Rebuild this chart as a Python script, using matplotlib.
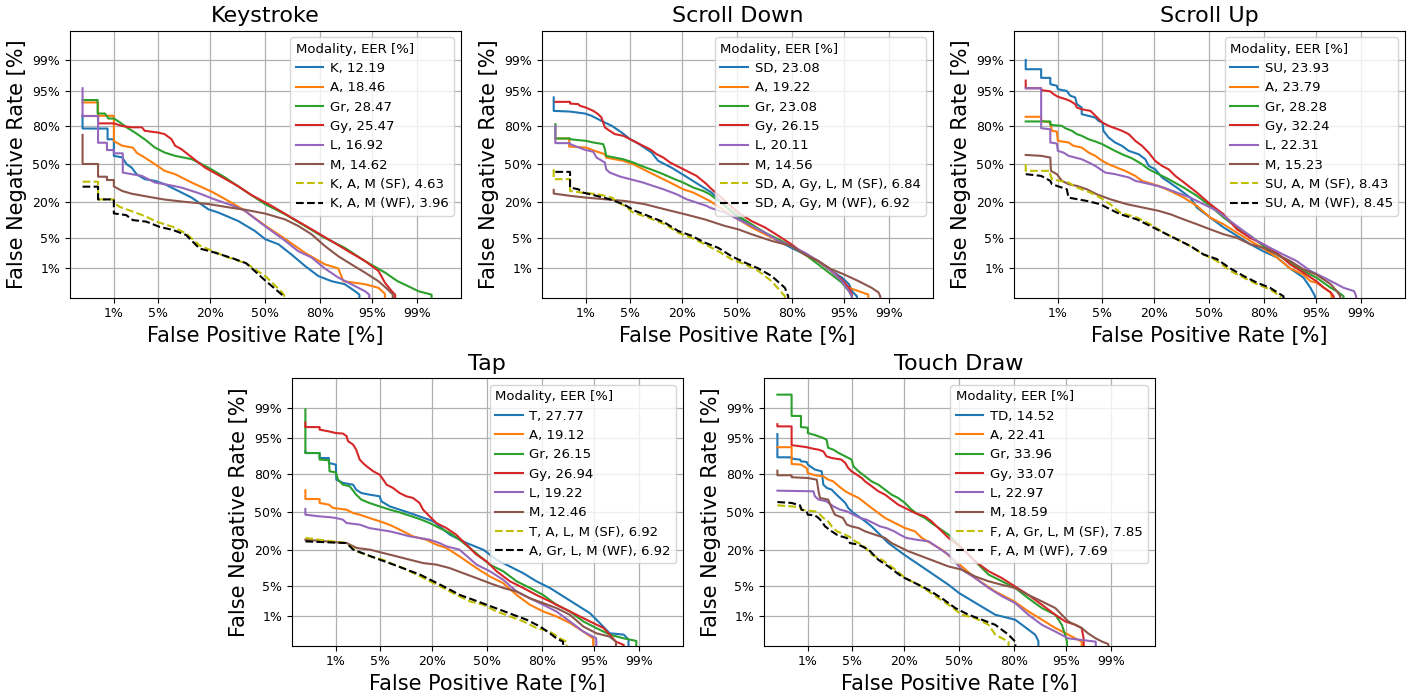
import math
import numpy as np
import matplotlib
matplotlib.use("Agg")
import matplotlib.pyplot as plt

# ---------------- data (FPR %, FNR %) ----------------
TICKS = [1, 5, 20, 50, 80, 95, 99]
TICK_LABELS = ["1%", "5%", "20%", "50%", "80%", "95%", "99%"]
LEGEND_TITLE = "Modality, EER [%]"
TITLES = ["Keystroke", "Scroll Down", "Scroll Up", "Tap", "Touch Draw"]

# Keystroke
ks_labels = ["K, 12.19", "A, 18.46", "Gr, 28.47", "Gy, 25.47", "L, 16.92", "M, 14.62",
             "K, A, M (SF), 4.63", "K, A, M (WF), 3.96"]
ks_k = [(0.25,86.1),(0.25,78.7),(0.77,78.7),(0.77,71.1),(1.0,71.1),(1.0,57.4),(1.4,56),(1.66,50),(2.0,47),(2.4,41.2),(3.2,36.9),(4.5,35.5),(6.1,32.8),(9.1,27.5),(12.9,22.8),(19.1,15.7),(23.6,14),(34,10.2),(43.7,6.8),(50,4.7),(58,3.7),(65.6,2.2),(72.9,1.16),(79.2,0.63),(84.6,0.45),(88.9,0.37),(91.6,0.23),(92.6,0.18),(92.6,0)]
ks_a = [(0.25,91.6),(0.51,91.6),(0.51,86),(1.0,86),(1.0,69.7),(1.4,66),(2.1,64.4),(2.4,60.2),(3.2,55.9),(4.5,50),(6.1,44.1),(8.3,41.2),(13,34),(20.5,27),(26.6,22),(36,16),(50,8.5),(61.9,4.8),(72.9,2.4),(82,1.27),(86.9,1.0),(88.5,0.45),(93.7,0.37),(95.9,0.29),(96.7,0.19),(96.7,0)]
ks_gr = [(0.25,92.4),(0.5,92.4),(0.5,87.1),(0.69,87.1),(0.8,84.6),(1.0,84.6),(1.29,82.4),(1.66,79.4),(2.27,76),(3.2,71.1),(4.5,64.5),(6.1,60.3),(8.3,57.4),(13,54.4),(19.1,47),(26.8,38.4),(37.8,27.5),(50,18.6),(61.9,13.2),(72.9,8.4),(82,5),(88.9,3.1),(93.7,1.54),(96.7,0.78),(97.9,0.45),(98.77,0.29),(99.06,0.23),(99.47,0.18),(99.47,0)]
ks_gy = [(0.25,85.9),(0.51,85.9),(0.51,81.9),(1.0,81.9),(1.4,80.3),(2.0,79.5),(2.9,79.5),(3.2,77.2),(5.0,76),(6.1,74.9),(7.5,71.1),(8.3,66),(9.9,63.1),(13,56),(17.7,47),(25,39),(34,31),(41.7,24.5),(53.9,17.6),(65.6,11.7),(76.1,7.35),(84.6,4.3),(89.9,2.6),(93.7,1.54),(95.9,0.86),(96.7,0.41),(97.4,0.23),(97.7,0.18),(97.7,0)]
ks_l = [(0.25,95.5),(0.25,85.9),(0.51,85.9),(0.51,68.4),(0.75,68.4),(0.75,62.4),(1.0,62.4),(1.0,59.6),(1.43,59.6),(1.43,42.6),(2.0,41.2),(2.9,39.7),(4.5,34.1),(6.1,32.8),(9.9,30.1),(15.2,26),(22,21.5),(30.3,18),(37.8,14.9),(45.7,10.2),(53.9,6.8),(61.9,4.4),(69.4,2.6),(76.1,1.87),(82,1.0),(86.9,0.57),(90.7,0.37),(93.7,0.23),(94.5,0.18),(94.5,0)]
ks_m = [(0.25,74.3),(0.25,50.2),(0.51,50.2),(0.51,39),(0.75,39),(0.75,36.2),(1.0,36.2),(1.0,31),(1.4,27.5),(2.0,25.5),(4.0,23),(6.1,21.5),(10.9,20),(19.1,18.7),(30.3,16.5),(37.8,15.5),(50,13.5),(61.9,10.9),(69.4,8.4),(76.1,5.9),(82,3.4),(86.9,2.0),(90.7,1.27),(93.7,0.78),(95.9,0.45),(97,0.26),(97.5,0.18),(97.5,0)]
ks_sf = [(0.25,34.8),(0.51,34.8),(0.51,21.6),(1.0,21.6),(1.0,19.5),(1.26,17.1),(2.1,14.5),(3.37,12.1),(4.7,10),(7.8,8.1),(11.2,6.1),(15.6,3.5),(27.4,1.94),(38.5,1.35),(50.5,0.6),(60.6,0.2),(62,0.15),(62,0)]
ks_wf = [(0.25,30.8),(0.51,30.8),(0.51,21.6),(1.0,21.6),(1.0,13.6),(1.63,12.8),(2.1,10.6),(3.37,10),(5.2,8.1),(7.8,7.1),(11.2,5.7),(15.6,3.0),(21,2.5),(30.9,1.78),(38.5,1.35),(48.5,0.54),(60.6,0.17),(61,0)]

# Scroll Down
sd_labels = ["SD, 23.08", "A, 19.22", "Gr, 23.08", "Gy, 26.15", "L, 20.11", "M, 14.56",
             "SD, A, Gy, L, M (SF), 6.84", "SD, A, Gy, M (WF), 6.92"]
sd_sd = [(0.24,93.2),(0.24,88.3),(0.51,88),(0.96,87.1),(1.26,86),(1.85,83.3),(2.7,80.4),(3.8,76),(5,71.1),(6.4,67.8),(9.4,60.3),(11.2,53),(15.6,47),(21.1,39.7),(27.4,32.8),(34.7,26.3),(42.5,17.6),(50.6,11.7),(58.7,8.4),(66.5,6.3),(73.6,4.35),(79.7,3.1),(85.1,2.2),(89.3,1.54),(92.6,0.86),(94.6,0.57),(95.7,0.37),(96.1,0.23),(96.7,0.16),(96.7,0)]
sd_a = [(0.26,71.7),(0.49,71.7),(0.49,65.3),(1.0,64.5),(1.43,61.7),(2.1,58.8),(2.2,55.9),(3.0,54.4),(4.0,53),(5.5,50),(7.4,45.5),(9.8,41.2),(12.8,36.9),(16.3,32.8),(20.3,28.8),(25,26.3),(30.1,22.8),(33.7,20.6),(42.5,14.9),(50.6,10.9),(58.7,7.9),(66.5,5.9),(73.6,4.35),(79.7,3.4),(85.1,2.2),(89.3,1.54),(92.6,0.86),(94.6,0.45),(95.7,0.29),(96.9,0.23),(97.8,0.18),(97.8,0)]
sd_gr = [(0.26,81.4),(0.26,71.7),(0.51,71.7),(0.51,71.1),(1.0,69.9),(1.35,68.6),(1.97,67.3),(2.1,63.1),(2.2,57.4),(3.0,55.9),(4.0,54.4),(5.5,51.5),(7.4,47.9),(9.8,44.7),(12.8,41.2),(16.3,37.4),(20.3,34.1),(25,30.1),(30.1,27.5),(33.7,25.1),(42.5,17.6),(50.6,12.4),(58.7,9.0),(66.5,6.3),(73.6,4.7),(79.7,3.4),(85.1,2.2),(89.3,1.27),(92.6,0.69),(94.6,0.41),(95.7,0.23),(96.1,0.16),(96.1,0)]
sd_gy = [(0.26,91.8),(0.51,91.8),(0.51,91.2),(0.73,91),(0.78,90.4),(1.0,89.7),(1.35,88.3),(1.63,86.8),(1.85,85.1),(1.97,82.4),(2.1,79.4),(2.5,77.2),(3.0,74.9),(4.0,73.7),(5.0,71.1),(6.1,68.6),(7.4,65.9),(9.0,63.1),(10.8,58.8),(12.8,55.9),(15.1,51.5),(17.6,48.5),(21.8,44.1),(26.6,39.7),(31.9,32.8),(33.7,30.1),(42.5,20.6),(50.6,14),(58.7,10.2),(66.5,7.9),(73.6,5.5),(79.7,3.7),(85.1,2.2),(89.3,1.54),(92.6,0.86),(94.6,0.5),(95.7,0.29),(96.1,0.18),(96.1,0)]
sd_l = [(0.26,80.4),(0.26,68.1),(0.51,68.1),(0.51,67.3),(0.96,62.6),(1.35,60.9),(1.53,55.9),(2.1,51.5),(2.2,45.5),(2.5,42.6),(3.6,39.1),(5,36.9),(7.4,34.1),(9.8,31.4),(12.8,28.8),(17.6,25.1),(21.8,21.7),(26.6,19.6),(31.9,17.6),(33.7,16.6),(42.5,14),(50.6,10.9),(58.7,8.4),(66.5,6.3),(73.6,4.35),(79.7,3.4),(85.1,2.4),(89.3,1.54),(92.6,0.86),(94.6,0.45),(95.7,0.23),(96.1,0.16),(96.1,0)]
sd_m = [(0.24,28.3),(0.24,25.6),(0.51,24),(1,22.8),(2.1,21.7),(4.2,20.6),(7.8,18.6),(13.3,15.7),(21.1,13.2),(30.9,10.9),(42.5,8.4),(50.6,7.3),(58.7,5.9),(70.1,4.35),(79.7,3.4),(85.1,2.2),(89.3,1.54),(92.6,0.95),(95,0.69),(96.9,0.45),(98.05,0.29),(98.5,0.21),(98.6,0.16),(98.6,0)]
sd_sf = [(0.24,45.5),(0.24,36.9),(0.51,36.9),(0.51,27.5),(0.84,26.3),(1.63,25.1),(2.7,22.8),(3.4,19.6),(4.2,17.6),(5.5,14),(6.4,13.2),(8.6,11.7),(13.3,9.0),(18.2,6.3),(24.2,5),(30.9,3.7),(38.5,2.6),(46.5,1.7),(54.7,1.27),(62.7,0.86),(70.1,0.45),(76.8,0.16),(76.8,0)]
sd_wf = [(0.26,43.2),(0.51,43.2),(0.51,30.1),(0.73,28.8),(0.9,26.3),(1.53,24),(2.5,21.7),(4.0,18.6),(5.8,14.9),(8.6,12.4),(13.3,9.6),(18.2,6.8),(24.2,5.5),(30.9,4.0),(38.5,3.1),(46.5,2.0),(54.7,1.4),(62.7,1.0),(70.1,0.63),(76.8,0.29),(78.3,0.16),(78.3,0)]

# Scroll Up
su_labels = ["SU, 23.93", "A, 23.79", "Gr, 28.28", "Gy, 32.24", "L, 22.31", "M, 15.23",
             "SU, A, M (SF), 8.43", "SU, A, M (WF), 8.45"]
su_su = [(0.24,99),(0.24,98.3),(0.49,98.3),(0.49,97.3),(0.73,97.3),(0.73,96.3),(0.96,96),(1.0,95.3),(1.43,94.9),(1.63,93.7),(1.97,93.2),(2.1,91),(2.5,89.7),(2.5,86.8),(4.0,85.1),(4.45,83.3),(5.05,82.4),(5.2,77.2),(6.1,72.4),(7.4,68.6),(9.0,65.9),(10.8,61.7),(13.9,58.8),(16.3,54.4),(17.6,48.5),(20.3,45.5),(23.4,38.4),(30.9,30.1),(38.5,22.8),(42.5,16.6),(50.6,11.7),(58.7,7.9),(66.5,5.5),(73.6,3.7),(79.7,2.6),(85.1,1.87),(89.3,1.0),(92.6,0.57),(94,0.29),(94.8,0.16),(94.8,0)]
su_a = [(0.24,85.5),(0.49,85.5),(0.49,83.3),(0.73,82.4),(0.78,77.2),(0.96,76.7),(1.0,69.9),(1.53,68.6),(1.85,65.9),(2.5,64.5),(3.2,60.2),(4.0,57.4),(5.0,53),(6.1,50),(7.4,47.6),(9.8,44.1),(12.8,39.7),(15.1,35.5),(21.8,31.4),(27.5,27.5),(34.7,22.8),(42.5,17.6),(50.6,11.7),(58.7,9.0),(66.5,6.3),(73.6,4.35),(79.7,3.0),(85.1,1.87),(89.3,1.0),(92.6,0.69),(94,0.45),(95,0.41),(96.1,0.29),(96.9,0.21),(97,0.16),(97,0)]
su_gr = [(0.24,83),(0.73,83),(0.73,81),(1.18,80.4),(1.35,78.9),(1.74,77.2),(2.1,74.9),(2.5,73.7),(3.2,71.1),(4.0,69.4),(5,67.3),(6.1,64.5),(7.4,61.7),(9.0,58.8),(11.7,55.3),(15.1,50),(17.6,45.5),(21.8,41.2),(26.6,36.9),(34.7,30.1),(42.5,24),(50.6,17.6),(58.7,11.7),(66.5,7.9),(73.6,5.5),(79.7,3.4),(85.1,2.2),(89.3,1.4),(92.6,0.86),(95,0.57),(96.9,0.29),(97.5,0.23),(98.05,0.16),(98.05,0)]
su_gy = [(0.24,96.9),(0.24,95.5),(0.49,95.5),(0.49,95.1),(0.73,94.8),(0.84,94.1),(1.0,93.4),(1.35,92.7),(1.63,92.1),(1.97,91),(2.1,89.7),(2.5,89),(3.4,88.3),(4.0,86.1),(5,82.4),(6.1,80.4),(7.4,78.9),(9.0,77.2),(10.8,74.9),(12.8,69.9),(15.1,65.9),(17.6,60.2),(20.3,53),(23.4,48.5),(26.6,45.5),(30.1,39.7),(33.7,35.5),(42.5,26.3),(50.6,18.6),(58.7,13.2),(66.5,7.3),(73.6,5),(79.7,3.7),(85.1,2.4),(89.3,1.27),(92.6,0.78),(95,0.45),(96.1,0.29),(96.9,0.21),(97.2,0.16),(97.2,0)]
su_l = [(0.24,95.5),(0.49,95.5),(0.49,78.9),(0.73,78.2),(0.73,68.6),(0.96,67.8),(1.0,61.7),(1.26,60.2),(1.53,57.4),(1.97,55.9),(2.5,54.4),(3.2,51.5),(4.0,48.5),(4.7,45.5),(5.5,42.6),(7.4,41.2),(10.8,38.4),(12.8,35.5),(18.2,32.8),(24.2,30.1),(30.9,26.3),(38.5,22.8),(46.5,18.6),(54.7,14.9),(62.7,10.2),(70.1,6.8),(76.8,4.35),(82.5,3.1),(87.2,2.2),(91,1.54),(94,0.86),(96.1,0.57),(97.5,0.37),(98.05,0.29),(98.7,0.23),(98.8,0.16),(98.8,0)]
su_m = [(0.24,58.2),(0.49,57.4),(0.73,55.9),(0.75,44.1),(0.96,41.2),(1.18,35.5),(1.53,32.8),(2.1,31.4),(3.0,28.8),(4.2,25.1),(6.4,21.7),(10.3,18.6),(15.6,16.6),(21.8,14.9),(27.5,13.2),(34.7,10.9),(42.5,9.0),(50.6,7.3),(58.7,5.9),(66.5,5.0),(73.6,3.7),(79.7,3.1),(85.1,2.2),(89.3,1.54),(92.6,0.95),(95,0.69),(96.9,0.37),(97.5,0.23),(97.8,0.16),(97.8,0)]
su_sf = [(0.24,50),(0.24,44.1),(0.73,44.1),(0.73,41.2),(0.78,36.9),(1.53,34.1),(2.1,30.1),(3.4,26.3),(4.7,22.8),(6.4,18.6),(8.6,14),(13.3,11.7),(18.2,9.0),(24.2,6.3),(30.9,4.7),(38.5,3.4),(46.5,2.2),(54.7,1.54),(62.7,0.86),(70.1,0.57),(76.8,0.37),(82.5,0.26),(86.2,0.16),(86.2,0)]
su_wf = [(0.24,41.2),(0.49,39.7),(0.73,35.5),(0.78,32.8),(1.43,28.8),(1.53,22.8),(3.0,20.6),(4.7,18.6),(6.4,15.7),(8.6,13.2),(13.3,10.9),(18.2,8.4),(24.2,6.3),(30.9,4.7),(38.5,3.4),(46.5,2.2),(54.7,1.7),(62.7,1.0),(70.1,0.63),(76.8,0.41),(82.5,0.29),(87.3,0.16),(87.3,0)]

# Tap
tp_labels = ["T, 27.77", "A, 19.12", "Gr, 26.15", "Gy, 26.94", "L, 19.22", "M, 12.46",
             "T, A, L, M (SF), 6.92", "A, Gr, L, M (WF), 6.92"]
tp_t = [(0.26,91.2),(0.26,90.6),(0.5,90.6),(0.5,88.6),(0.75,88.6),(0.75,86.3),(1.0,85.5),(1.02,76.5),(1.33,74.2),(1.96,72.9),(2.2,69.1),(2.65,66.4),(3.5,65.1),(4.9,63.7),(5.2,59.4),(6.7,55),(8.9,52.1),(11.7,49.1),(14.9,46.1),(20.4,41.8),(28.3,30.6),(37.6,24.4),(47.6,20),(55.7,14.3),(63.6,11.2),(71,8.6),(77.5,6.1),(83.2,4.5),(87.8,3.0),(91.5,1.92),(94.25,1.2),(95.8,0.66),(97.0,0.34),(98.2,0.31),(98.5,0.22),(98.6,0)]
tp_a = [(0.26,68.6),(0.26,61.4),(0.5,61.4),(0.5,58),(0.75,56.5),(0.89,53.6),(1.53,52.1),(1.96,49.1),(2.5,47.6),(3.5,44.7),(4.9,41.8),(6.1,39.7),(7.4,37.4),(9.8,33.3),(12.7,29.3),(17.4,26.8),(21.7,23.3),(26.5,21.1),(33.5,16.1),(43.5,10.5),(51.6,7.5),(59.7,5.6),(67.4,3.2),(74.4,1.92),(80.5,1.32),(85.6,0.99),(89.8,0.66),(93,0.38),(94.8,0.24),(95.3,0)]
tp_gr = [(0.26,98.9),(0.26,90.6),(0.5,90.6),(0.5,87.9),(0.75,87.6),(0.77,81.8),(1.0,81.2),(1.09,76.5),(1.33,72.9),(1.73,71.7),(2.2,65.1),(2.65,60.9),(3.5,58),(4.9,55),(6.7,52.1),(8.9,49.7),(11.7,46.7),(14.9,43.8),(18.8,40.3),(23.2,36),(28.3,31.9),(33.5,26.8),(39.5,21.1),(45.5,16.1),(51.6,12),(59.7,9.3),(67.4,6.1),(74.4,4.5),(80.5,3.2),(85.6,1.92),(89.8,1.32),(93,0.73),(95.3,0.48),(97.0,0.31),(98.2,0.24),(98.9,0.2),(98.9,0)]
tp_gy = [(0.26,97.7),(0.26,97.1),(0.5,97.1),(0.5,96.7),(0.75,96.4),(1.0,96.1),(1.33,96),(1.53,95.5),(1.62,94.3),(1.96,93.4),(2.2,91.8),(2.5,87.9),(2.8,86.3),(3.2,84.6),(4.0,81.8),(4.9,79.8),(5.5,76.5),(6.1,72.9),(7.4,70.4),(8.9,66.4),(10.7,63.7),(12.7,62.3),(14.9,58),(16.2,52.1),(18.8,46.1),(21.7,40.3),(26.5,36),(31.7,30.6),(33.5,28.1),(43.5,17),(49.6,13.5),(55.7,9.3),(63.6,6.1),(71,4.5),(77.5,3.2),(83.2,2.3),(87.8,1.6),(91.5,1.09),(94.25,0.73),(96.3,0.48),(97.0,0.31),(97.6,0.19),(98.2,0.15),(98.2,0)]
tp_l = [(0.26,52.7),(0.26,47.6),(0.5,46.1),(0.75,45.5),(1.0,44.7),(1.33,43.2),(1.53,40.3),(2.5,38.9),(3.5,36),(4.9,34.6),(6.7,33.3),(8.9,31.4),(11.7,29.3),(14.9,28.1),(18.8,26.8),(23.2,24.4),(26.5,22.2),(33.5,20),(43.5,12),(51.6,9.3),(59.7,6.5),(67.4,3.8),(74.4,2.7),(80.5,1.92),(85.6,1.32),(89.8,0.73),(93,0.38),(95.3,0.24),(95.8,0)]
tp_m = [(0.26,26.8),(1.54,24.4),(2.24,21.1),(3.6,20),(5.5,18),(8.2,16.1),(11.8,14.3),(16.3,12.7),(21.8,12),(28.3,10.5),(35.6,8.6),(43.5,7.0),(51.6,5.6),(59.7,4.5),(67.4,3.8),(74.4,2.7),(80.5,2.1),(85.6,1.6),(89.8,1.09),(93,0.53),(95.3,0.34),(97.0,0.27),(97.6,0.19),(97.8,0)]
tp_sf = [(0.26,28.1),(1.54,24.4),(2.24,19),(3.6,16.1),(5.5,14.3),(6.8,12.7),(9.9,10.5),(13.9,8.1),(18.9,6.1),(25,4.5),(31.9,3.2),(39.5,2.3),(47.6,1.92),(55.7,1.32),(63.6,0.99),(71,0.73),(77.5,0.48),(83.2,0.38),(86.8,0.24),(88.8,0.19),(90.6,0)]
tp_wf = [(0.26,25.6),(1.54,24.4),(1.98,20),(3.2,17),(5.0,14.3),(7.5,12),(10.8,9.9),(15.1,8.1),(20.4,6.1),(26.6,4.5),(33.7,3.2),(41.5,2.5),(49.6,1.92),(57.7,1.46),(65.5,1.09),(72.7,0.81),(79.1,0.53),(83.2,0.34),(85.6,0.24),(87.8,0.19),(88.8,0)]

# Touch Draw
td_labels = ["TD, 14.52", "A, 22.41", "Gr, 33.96", "Gy, 33.07", "L, 22.97", "M, 18.59",
             "F, A, Gr, L, M (SF), 7.85", "F, A, M (WF), 7.69"]
td_td = [(0.26,95.9),(0.26,88.9),(0.5,88.9),(0.5,88.3),(0.72,87.9),(0.75,87.1),(0.95,86.8),(1.0,85.5),(1.33,82.8),(1.73,81.8),(1.84,72.9),(2.1,70.4),(2.5,69.1),(2.8,66.4),(3.35,62.3),(4.0,58),(4.4,53.6),(5.2,49.1),(6.1,46.1),(7.4,41.8),(8.9,37.4),(10.7,31.9),(12.7,26.8),(13.8,24.4),(19.9,17),(31.9,9.3),(43.5,5.2),(50,3.5),(61.7,1.92),(71,1.09),(80.5,0.81),(87.8,0.31),(88.8,0.2),(88.8,0)]
td_a = [(0.26,92.6),(0.5,92.6),(0.5,85.8),(0.75,85.5),(0.95,83.7),(1.0,80.8),(1.33,79.4),(1.84,78.7),(2.2,76.5),(2.65,75.3),(3.2,71.8),(4.0,67.8),(4.9,65.1),(6.1,62.3),(7.4,58),(8.9,53.6),(10.7,49.1),(12.7,44.7),(14.9,41.8),(17.4,38.9),(20.2,36),(24.8,33.3),(28.3,28.1),(39.5,20),(51.6,11.2),(59.7,7.0),(71,3.8),(80.1,2.3),(85.6,1.32),(89.8,0.81),(93,0.48),(95.3,0.31),(97.0,0.19),(97.3,0)]
td_gr = [(0.26,99.56),(0.5,99.56),(0.5,98.4),(0.75,98.4),(0.75,97.1),(1.0,97),(1.0,96.1),(1.33,95.7),(1.73,95.2),(2.07,94.7),(2.2,92.4),(2.65,91.8),(3.2,90.6),(4.0,89.3),(4.9,87.9),(5.2,84.6),(6.1,81.8),(7.4,78.7),(8.9,75.3),(10.7,72.9),(12.7,69.1),(14.9,65.1),(17.4,62.3),(20.2,58),(23.2,52.1),(26.5,47.6),(29.9,44.7),(33.5,40.3),(43.5,30.6),(51.6,21.1),(59.7,13.5),(67.4,8.1),(74.4,6.1),(80.5,4.5),(85.6,2.7),(89.8,1.6),(93,1.09),(94.25,0.59),(94.8,0.31),(95.1,0.19),(95.3,0)]
td_gy = [(0.26,97.5),(0.26,97.2),(0.5,97.2),(0.5,93.2),(0.72,92.9),(0.95,92.6),(1.25,92.1),(1.53,91.8),(1.84,91.2),(2.07,89.3),(2.5,88.6),(3.5,87.9),(4.0,86.3),(4.4,83.7),(4.9,81.8),(5.75,79.8),(6.7,77.6),(7.4,75.3),(8.9,71.8),(10.7,67.8),(12.7,65.1),(14.9,60.9),(17.4,56.5),(20.2,53.6),(24.8,49.1),(29.9,46.1),(33.5,41.8),(43.5,28.1),(51.6,21.1),(59.7,13.5),(67.4,9.3),(74.4,7.0),(80.5,4.8),(85.6,3.2),(89.8,1.92),(93,1.09),(94.8,0.73),(96.3,0.59),(97.0,0.48),(97.2,0.24),(97.4,0)]
td_l = [(0.26,68.3),(1.25,67.8),(1.33,63.7),(1.53,60.9),(2.07,59.4),(2.35,57.1),(2.65,55),(3.35,52.1),(4.2,50.6),(5.2,47.6),(6.4,44.7),(7.7,43.2),(9.3,40.3),(11.2,37.4),(13.2,36),(15.9,33.3),(18.1,30.6),(20.9,28.1),(25.6,26.8),(31.9,25.6),(43.5,17),(51.6,9.9),(59.7,7.0),(67.4,4.5),(74.4,3.0),(80.5,2.1),(85.6,1.09),(89.8,0.59),(93,0.38),(95.3,0.24),(98.2,0.19),(98.4,0)]
td_m = [(0.26,82.2),(0.26,79.4),(0.5,79.4),(0.5,78.1),(1.0,77.6),(1.43,76.5),(1.53,67.8),(1.62,62.3),(2.2,60.9),(2.5,53.6),(2.8,47.6),(3.7,44.7),(4.2,38.9),(4.9,37.4),(6.1,36),(7.4,33.3),(9.8,30.6),(12.7,28.1),(14.9,24.4),(21.8,19),(28.3,16.1),(35.6,13.5),(43.5,11.2),(51.6,9.9),(59.7,7.5),(67.4,6.1),(74.4,5.2),(80.5,4.5),(85.6,3.2),(89.8,2.3),(93,1.6),(94.25,1.09),(95.3,0.73),(97.0,0.48),(97.6,0.34),(98.2,0.24),(98.6,0.19),(98.9,0.16),(99.0,0)]
td_sf = [(0.26,55.9),(0.5,55),(0.72,54.1),(0.75,52.1),(1.0,51.2),(1.33,50.6),(1.53,49.1),(1.84,44.7),(2.2,41.8),(2.5,37.4),(3.0,33.3),(4.0,30.6),(4.9,28.1),(5.5,25.6),(6.8,23.3),(9.0,17),(11.8,14.3),(16.3,9.9),(20.4,7.0),(26.6,5.2),(31.9,3.8),(37.6,2.7),(43.5,1.92),(51.6,1.09),(59.7,0.89),(67.4,0.59),(71,0.31),(77.5,0.19),(80.5,0)]
td_wf = [(0.26,58.8),(0.5,58),(0.72,55.9),(0.77,52.1),(0.95,50.6),(1.0,47.6),(1.33,47),(1.53,44.7),(1.73,41.8),(1.96,37.4),(2.5,33.3),(3.0,30.6),(3.5,29.3),(4.2,28.1),(4.65,24.4),(6.1,23.3),(8.2,20),(10.7,14.3),(13.8,11.2),(18.8,7.5),(25,5.6),(31.9,4.1),(39.5,2.7),(47.6,1.6),(55.7,1.09),(63.6,0.81),(71,0.59),(77.5,0.31),(80.5,0.19),(83.2,0)]

PANELS = [
    (ks_labels, [ks_k, ks_a, ks_gr, ks_gy, ks_l, ks_m, ks_sf, ks_wf]),
    (sd_labels, [sd_sd, sd_a, sd_gr, sd_gy, sd_l, sd_m, sd_sf, sd_wf]),
    (su_labels, [su_su, su_a, su_gr, su_gy, su_l, su_m, su_sf, su_wf]),
    (tp_labels, [tp_t, tp_a, tp_gr, tp_gy, tp_l, tp_m, tp_sf, tp_wf]),
    (td_labels, [td_td, td_a, td_gr, td_gy, td_l, td_m, td_sf, td_wf]),
]

STYLES = [("C0", "-"), ("C1", "-"), ("C2", "-"), ("C3", "-"), ("C4", "-"), ("C5", "-"),
          ("y", "--"), ("k", "--")]

# ---------------- probit scale ----------------
_A = [-3.969683028665376e+01, 2.209460984245205e+02, -2.759285104469687e+02,
      1.383577518672690e+02, -3.066479806614716e+01, 2.506628277459239e+00]
_B = [-5.447609879822406e+01, 1.615858368580409e+02, -1.556989798598866e+02,
      6.680131188771972e+01, -1.328068155288572e+01]
_C = [-7.784894002430293e-03, -3.223964580411365e-01, -2.400758277161838e+00,
      -2.549732539343734e+00, 4.374664141464968e+00, 2.938163982698783e+00]
_D = [7.784695709041462e-03, 3.224671290700398e-01, 2.445134137142996e+00,
      3.754408661907416e+00]


def _ppf(p):
    p = np.asarray(p, dtype=float)
    out = np.empty_like(p)
    plow = 0.02425
    lo = p < plow
    hi = p > 1 - plow
    mid = ~(lo | hi)
    if np.any(lo):
        q = np.sqrt(-2 * np.log(p[lo]))
        out[lo] = (((((_C[0]*q+_C[1])*q+_C[2])*q+_C[3])*q+_C[4])*q+_C[5]) / \
                  ((((_D[0]*q+_D[1])*q+_D[2])*q+_D[3])*q+1)
    if np.any(hi):
        q = np.sqrt(-2 * np.log(1 - p[hi]))
        out[hi] = -(((((_C[0]*q+_C[1])*q+_C[2])*q+_C[3])*q+_C[4])*q+_C[5]) / \
                  ((((_D[0]*q+_D[1])*q+_D[2])*q+_D[3])*q+1)
    if np.any(mid):
        q = p[mid] - 0.5
        r = q * q
        out[mid] = (((((_A[0]*r+_A[1])*r+_A[2])*r+_A[3])*r+_A[4])*r+_A[5]) * q / \
                   (((((_B[0]*r+_B[1])*r+_B[2])*r+_B[3])*r+_B[4])*r+1)
    return out


_erf = np.vectorize(math.erf, otypes=[float])


def fwd(x):
    p = np.clip(np.asarray(x, dtype=float) / 100.0, 1e-10, 1 - 1e-10)
    return _ppf(p)


def inv(z):
    z = np.asarray(z, dtype=float)
    return 50.0 * (1.0 + _erf(z / math.sqrt(2.0)))


# ---------------- figure ----------------
W, H = 1418, 692
fig = plt.figure(figsize=(W / 100, H / 100), dpi=100)

AX_W, AX_H = 390.5, 267.0
POS = [(70, 30.7), (542, 30.7), (1014, 30.7), (292, 378.5), (764, 378.5)]

for (labels, curves), title, (lx, ty) in zip(PANELS, TITLES, POS):
    ax = fig.add_axes([lx / W, 1 - (ty + AX_H) / H, AX_W / W, AX_H / H])
    ax.set_xscale("function", functions=(fwd, inv))
    ax.set_yscale("function", functions=(fwd, inv))
    for pts, lab, (col, ls) in zip(curves, labels, STYLES):
        fpr = [p[0] for p in pts]
        fnr = [p[1] for p in pts]
        ax.plot(fpr, fnr, color=col, ls=ls, lw=1.5, label=lab)
    ax.set_xlim(float(inv(-3.0)), float(inv(3.0)))
    ax.set_ylim(float(inv(-2.98)), float(inv(2.98)))
    ax.set_xticks(TICKS)
    ax.set_xticklabels(TICK_LABELS, fontsize=9)
    ax.set_yticks(TICKS)
    ax.set_yticklabels(TICK_LABELS, fontsize=9)
    ax.minorticks_off()
    ax.grid(True, color="#b0b0b0", lw=0.9)
    ax.set_axisbelow(True)
    ax.set_title(title, fontsize=16)
    ax.set_xlabel("False Positive Rate [%]", fontsize=15)
    ax.set_ylabel("False Negative Rate [%]", fontsize=15)
    ax.legend(title=LEGEND_TITLE, loc="upper right", fontsize=9.5, title_fontsize=9.5,
              handlelength=2.1, handletextpad=0.5, labelspacing=0.48, alignment="left")

fig.savefig("out.png", dpi=100)
